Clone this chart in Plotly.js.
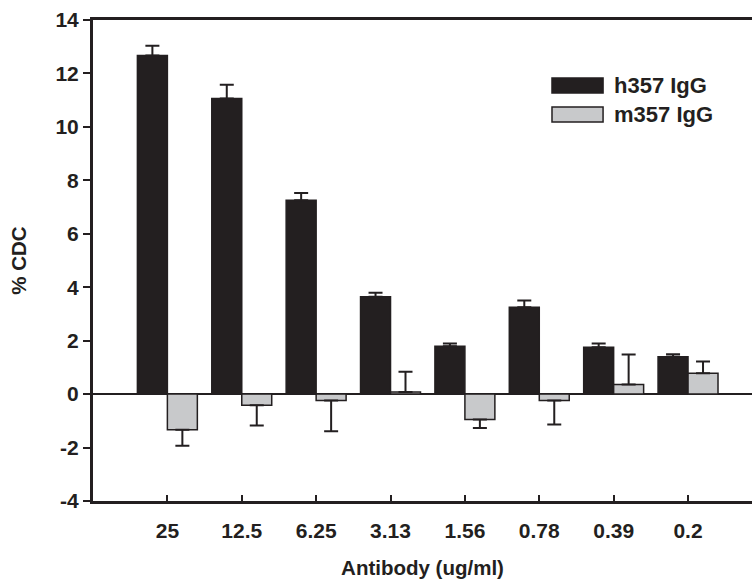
<!DOCTYPE html>
<html>
<head>
<meta charset="utf-8">
<script src="https://cdn.plot.ly/plotly-3.0.1.min.js"></script>
<style>html,body{margin:0;padding:0;background:#fff;}#chart{width:752px;height:583px;}</style>
</head>
<body>
<div id="chart"></div>
<script>
var categories = ["25", "12.5", "6.25", "3.13", "1.56", "0.78", "0.39", "0.2"];
var h357Values = [12.67, 11.06, 7.25, 3.64, 1.79, 3.25, 1.75, 1.40];
var h357Errors = [0.37, 0.52, 0.28, 0.15, 0.10, 0.25, 0.14, 0.09];
var m357Values = [-1.33, -0.42, -0.24, 0.08, -0.95, -0.24, 0.36, 0.78];
var m357Errors = [0.60, 0.75, 1.15, 0.76, 0.32, 0.90, 1.12, 0.44];
var seriesNames = ["h357 IgG", "m357 IgG"];
var yTickValues = [-4, -2, 0, 2, 4, 6, 8, 10, 12, 14];
var yTickLabels = ["-4", "-2", "0", "2", "4", "6", "8", "10", "12", "14"];

function upErr(vals, errs) { return vals.map(function (v, i) { return v >= 0 ? errs[i] : 0; }); }
function downErr(vals, errs) { return vals.map(function (v, i) { return v < 0 ? errs[i] : 0; }); }

var black = "#231f20";
var grey = "#c8c9cb";
var fontFam = "Liberation Sans, Arial, Helvetica, sans-serif";

var traces = [
  {
    type: "bar", name: seriesNames[0], x: categories, y: h357Values,
    marker: { color: black, line: { color: black, width: 1.5 } },
    error_y: { type: "data", symmetric: false, array: upErr(h357Values, h357Errors),
      arrayminus: downErr(h357Values, h357Errors), color: black, thickness: 2, width: 7 }
  },
  {
    type: "bar", name: seriesNames[1], x: categories, y: m357Values,
    marker: { color: grey, line: { color: black, width: 1.5 } },
    error_y: { type: "data", symmetric: false, array: upErr(m357Values, m357Errors),
      arrayminus: downErr(m357Values, m357Errors), color: black, thickness: 2, width: 7 }
  }
];

var tickFont = { family: fontFam, size: 21, color: black, weight: "bold" };
var titleFont = { family: fontFam, size: 20.5, color: black, weight: "bold" };
var legendFont = { family: fontFam, size: 22, color: black, weight: "bold" };

var layout = {
  width: 752, height: 583,
  margin: { l: 93, r: 0, t: 20, b: 82, pad: 0 },
  paper_bgcolor: "#fff", plot_bgcolor: "#fff",
  barmode: "group", bargap: 0.194, bargroupgap: 0,
  showlegend: false,
  xaxis: {
    type: "category", range: [-1, 7.86],
    showline: true, linecolor: black, linewidth: 3, mirror: true,
    ticks: "inside", ticklen: 6, tickwidth: 2, tickcolor: black,
    showgrid: false, zeroline: false,
    tickfont: tickFont, ticklabelstandoff: 9,
    title: { text: "Antibody (ug/ml)", font: titleFont, standoff: 20 }
  },
  yaxis: {
    range: [-4, 14], tickmode: "array", tickvals: yTickValues, ticktext: yTickLabels,
    showline: true, linecolor: black, linewidth: 3,
    ticks: "outside", ticklen: 7, tickwidth: 2, tickcolor: black,
    showgrid: false, zeroline: true, zerolinecolor: black, zerolinewidth: 1.5,
    tickfont: tickFont,
    title: { text: "% CDC", font: titleFont, standoff: 24 }
  },
  shapes: [
    { type: "rect", xref: "paper", yref: "paper", x0: 0.6965, x1: 0.774, y0: 0.848, y1: 0.8794,
      fillcolor: black, line: { color: black, width: 1.5 } },
    { type: "rect", xref: "paper", yref: "paper", x0: 0.6965, x1: 0.774, y0: 0.788, y1: 0.819,
      fillcolor: grey, line: { color: black, width: 1.5 } }
  ],
  annotations: [
    { xref: "paper", yref: "paper", x: 0.7875, y: 0.8628, xanchor: "left", yanchor: "middle",
      text: seriesNames[0], showarrow: false, font: legendFont },
    { xref: "paper", yref: "paper", x: 0.7875, y: 0.8025, xanchor: "left", yanchor: "middle",
      text: seriesNames[1], showarrow: false, font: legendFont }
  ]
};

Plotly.newPlot("chart", traces, layout, { displayModeBar: false, staticPlot: true });
</script>
</body>
</html>
